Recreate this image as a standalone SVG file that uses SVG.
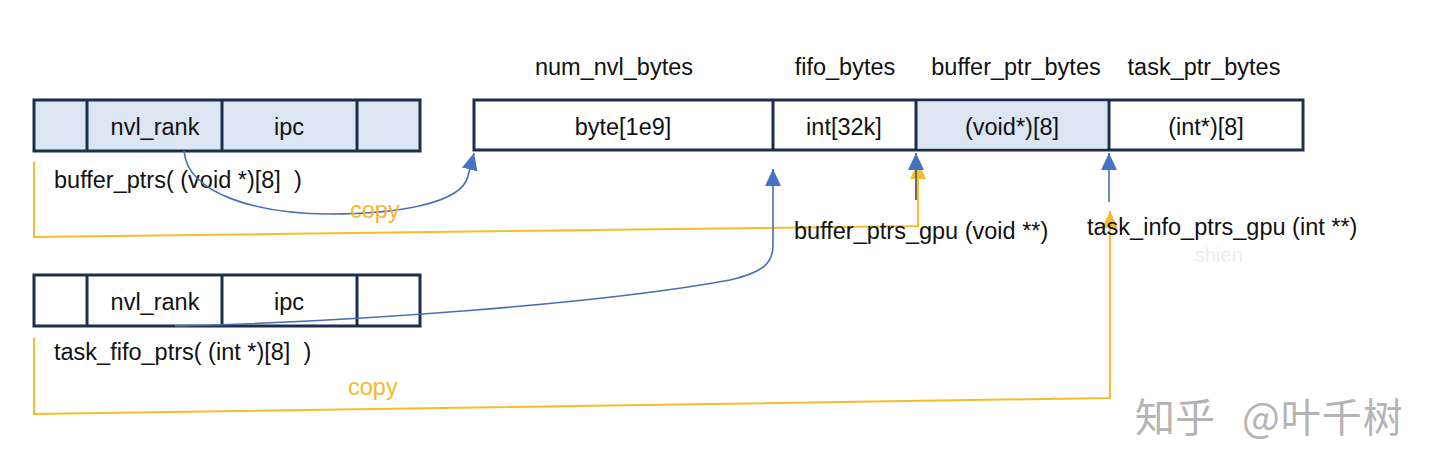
<svg xmlns="http://www.w3.org/2000/svg" width="1440" height="474" viewBox="0 0 1440 474">
<defs>
<style>
.cell{stroke:#1c2e4a;stroke-width:3;fill:#ffffff}
.hl{fill:#dce6f2}
.div{stroke:#1c2e4a;stroke-width:3}
.t{font-family:"Liberation Sans",Arial,sans-serif;font-size:23.5px;fill:#111;white-space:pre}
.c{text-anchor:middle}
.copy{font-family:"Liberation Sans",Arial,sans-serif;font-size:23.5px;fill:#f2b82e}
.blue{fill:none;stroke:#4a6fb0;stroke-width:1.6}
.gray{fill:none;stroke:#6b6b6b;stroke-width:2}
.yel{fill:none;stroke:#f5bd2a;stroke-width:2}
.wm{font-family:"Noto Sans CJK SC",sans-serif;font-size:40px;fill:#b4b4b4}
</style>
<marker id="ab" viewBox="0 0 17 16" refX="17" refY="8" markerWidth="17" markerHeight="16" markerUnits="userSpaceOnUse" orient="auto"><path d="M0,0 L17,8 L0,16 z" fill="#4472c4"/></marker>
<marker id="ay" viewBox="0 0 17 16" refX="17" refY="8" markerWidth="17" markerHeight="16" markerUnits="userSpaceOnUse" orient="auto"><path d="M0,0 L17,8 L0,16 z" fill="#f5bd2a"/></marker>
</defs>
<rect width="1440" height="474" fill="#ffffff"/>

<g id="buffer_ptrs">
<rect class="cell hl" x="34" y="100" width="386" height="51"/>
<line class="div" x1="87" y1="100" x2="87" y2="151"/>
<line class="div" x1="222" y1="100" x2="222" y2="151"/>
<line class="div" x1="357" y1="100" x2="357" y2="151"/>
<text class="t c" x="155" y="135">nvl_rank</text>
<text class="t c" x="289" y="135">ipc</text>
<text class="t" x="54" y="188" xml:space="preserve">buffer_ptrs( (void *)[8]  )</text>
</g>

<g id="task_fifo_ptrs">
<rect class="cell" x="34" y="275" width="386" height="51"/>
<line class="div" x1="87" y1="275" x2="87" y2="326"/>
<line class="div" x1="222" y1="275" x2="222" y2="326"/>
<line class="div" x1="357" y1="275" x2="357" y2="326"/>
<text class="t c" x="155" y="310">nvl_rank</text>
<text class="t c" x="289" y="310">ipc</text>
<text class="t" x="54" y="360" xml:space="preserve">task_fifo_ptrs( (int *)[8]  )</text>
</g>

<g id="buffer">
<rect class="cell" x="474" y="100" width="829" height="50"/>
<rect class="hl" x="917" y="101.5" width="190" height="47"/>
<line class="div" x1="773" y1="100" x2="773" y2="150"/>
<line class="div" x1="916" y1="100" x2="916" y2="150"/>
<line class="div" x1="1109" y1="100" x2="1109" y2="150"/>
<text class="t c" x="614" y="75">num_nvl_bytes</text>
<text class="t c" x="845" y="75">fifo_bytes</text>
<text class="t c" x="1016" y="75">buffer_ptr_bytes</text>
<text class="t c" x="1204" y="75">task_ptr_bytes</text>
<text class="t c" x="623" y="135">byte[1e9]</text>
<text class="t c" x="844" y="135">int[32k]</text>
<text class="t c" x="1012" y="135">(void*)[8]</text>
<text class="t c" x="1206" y="135">(int*)[8]</text>
</g>

<g id="connectors">
<path class="yel" d="M34,162 L34,237 L918,226 L918,162" marker-end="url(#ay)"/>
<path class="yel" d="M34,338 L34,414 L1110,398 L1110,211" marker-end="url(#ay)"/>
<path class="blue" d="M184,151 C188,196 262,214 330,214 C395,214 462,204 468,176 L474,153" marker-end="url(#ab)"/>
<path class="blue" d="M175,326 C350,322 600,304 730,280 C765,272 773,262 773,245 L773,169" marker-end="url(#ab)"/>
<path class="gray" d="M916,200 L916,153" marker-end="url(#ab)"/>
<path class="blue" d="M1109,202 L1109,153" marker-end="url(#ab)"/>
<text class="copy" x="350" y="218">copy</text>
<text class="copy" x="348" y="395">copy</text>
</g>

<g id="labels">
<text class="t" x="794" y="239">buffer_ptrs_gpu (void **)</text>
<text class="t" x="1087" y="235">task_info_ptrs_gpu (int **)</text>
<text x="1195" y="262" style="font-family:'Liberation Sans',Arial,sans-serif;font-size:20px;fill:#ededed">shien</text>
</g>

<g id="watermark">
<text class="wm" x="1135" y="432">知乎</text>
<text class="wm" x="1242" y="432" letter-spacing="1">@叶千树</text>
</g>
</svg>
